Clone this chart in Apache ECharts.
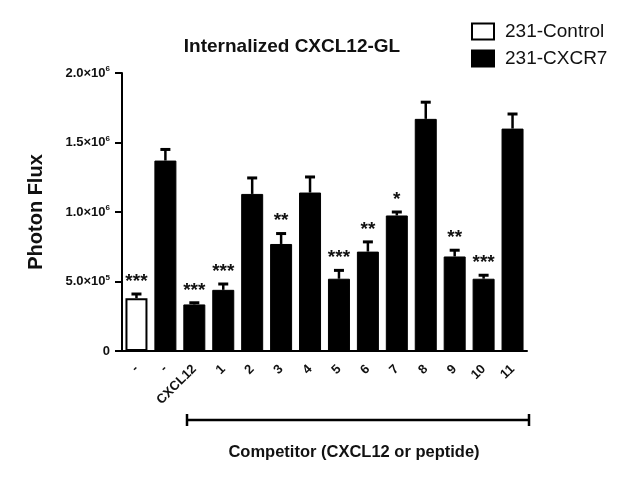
<!DOCTYPE html>
<html>
<head>
<meta charset="utf-8">
<script src="https://cdn.jsdelivr.net/npm/echarts@6/dist/echarts.min.js"></script>
<style>html,body{margin:0;padding:0;background:#fff;}#c{width:628px;height:483px;}</style>
</head>
<body>
<div id="c"></div>
<script>
var categories = ['-', '-', 'CXCL12', '1', '2', '3', '4', '5', '6', '7', '8', '9', '10', '11'];
var controlValues = [380000, null, null, null, null, null, null, null, null, null, null, null, null, null];
var cxcr7Values = [null, 1370000, 335000, 440000, 1130000, 770000, 1140000, 520000, 715000, 975000, 1670000, 680000, 520000, 1600000];
var errorValues = [30000, 80000, 12000, 42000, 115000, 75000, 112000, 60000, 70000, 25000, 120000, 45000, 25000, 105000];
var significance = ['***', '', '***', '***', '', '**', '', '***', '**', '*', '', '**', '***', ''];
var yTicks = [0, 500000, 1000000, 1500000, 2000000];

var FONT = "'Liberation Sans', Arial, sans-serif";
var chart = echarts.init(document.getElementById('c'));

var errData = categories.map(function (c, i) {
  var v = controlValues[i] != null ? controlValues[i] : cxcr7Values[i];
  return [i, v, errorValues[i], significance[i]];
});

function yLabel(v) {
  if (v === 0) return '{a|0}';
  var e = Math.floor(Math.log10(v) + 1e-9);
  var m = v / Math.pow(10, e);
  return '{a|' + m.toFixed(1) + '×10}{s|' + e + '}';
}

chart.setOption({
  animation: false,
  title: {
    text: 'Internalized CXCL12-GL',
    left: 287, top: 32, textAlign: 'center',
    textStyle: { fontFamily: FONT, fontWeight: 'bold', fontSize: 19, color: '#111' }
  },
  legend: {
    orient: 'vertical', left: 466, top: 17, itemWidth: 22, itemHeight: 16, itemGap: 8,
    icon: 'rect',
    textStyle: { fontFamily: FONT, fontSize: 19, color: '#111', padding: [0, 0, 0, 6] },
    data: ['231-Control', '231-CXCR7']
  },
  grid: { left: 122, right: 101, top: 73, bottom: 132, containLabel: false },
  xAxis: {
    type: 'category', data: categories,
    axisLine: { lineStyle: { color: '#000', width: 2 } },
    axisTick: { alignWithLabel: true, length: 6, lineStyle: { color: '#000', width: 2 } },
    axisLabel: { rotate: 45, margin: 16, interval: 0, fontFamily: FONT, fontWeight: 'bold', fontSize: 13, color: '#111' }
  },
  yAxis: {
    type: 'value', min: 0, max: 2000000, interval: 500000,
    name: 'Photon Flux', nameLocation: 'middle', nameGap: 76,
    nameTextStyle: { fontFamily: FONT, fontWeight: 'bold', fontSize: 20, color: '#111' },
    splitLine: { show: false },
    axisLine: { show: true, lineStyle: { color: '#000', width: 2 } },
    axisTick: { show: true, length: 7, lineStyle: { color: '#000', width: 2 } },
    axisLabel: {
      margin: 12, formatter: yLabel,
      rich: {
        a: { fontFamily: FONT, fontWeight: 'bold', fontSize: 13, color: '#111' },
        s: { fontFamily: FONT, fontWeight: 'bold', fontSize: 8, color: '#111', verticalAlign: 'top', padding: [0, 0, 8, 0] }
      }
    }
  },
  series: [
    {
      name: '231-Control', type: 'bar', stack: 'g', barWidth: 22,
      itemStyle: { color: '#fff', borderColor: '#000', borderWidth: 2 },
      data: controlValues
    },
    {
      name: '231-CXCR7', type: 'bar', stack: 'g', barWidth: 22,
      itemStyle: { color: '#000', borderColor: '#000', borderWidth: 1 },
      data: cxcr7Values
    },
    {
      name: 'err', type: 'custom', z: 5,
      renderItem: function (params, api) {
        var x = api.value(0), v = api.value(1), e = api.value(2);
        var p0 = api.coord([x, v]);
        var p1 = api.coord([x, v + e]);
        var sig = api.value(3);
        var children = [
          { type: 'line', shape: { x1: p0[0], y1: p0[1], x2: p1[0], y2: p1[1] }, style: { stroke: '#000', lineWidth: 2.5 } },
          { type: 'line', shape: { x1: p1[0] - 5, y1: p1[1], x2: p1[0] + 5, y2: p1[1] }, style: { stroke: '#000', lineWidth: 3 } }
        ];
        if (sig) {
          children.push({ type: 'text', style: { text: sig, x: p1[0], y: p1[1] - 3, textAlign: 'center', textVerticalAlign: 'bottom', font: 'bold 19px ' + FONT, fill: '#111' } });
        }
        return { type: 'group', children: children };
      },
      encode: { x: 0, y: 1 },
      data: errData
    }
  ],
  graphic: [
    { type: 'line', shape: { x1: 187, y1: 420, x2: 529, y2: 420 }, style: { stroke: '#000', lineWidth: 2.5 } },
    { type: 'line', shape: { x1: 187, y1: 414, x2: 187, y2: 426 }, style: { stroke: '#000', lineWidth: 2.5 } },
    { type: 'line', shape: { x1: 529, y1: 414, x2: 529, y2: 426 }, style: { stroke: '#000', lineWidth: 2.5 } },
    { type: 'text', style: { text: 'Competitor (CXCL12 or peptide)', x: 354, y: 444, textAlign: 'center', font: 'bold 16.5px ' + FONT, fill: '#111' } }
  ]
});
</script>
</body>
</html>
